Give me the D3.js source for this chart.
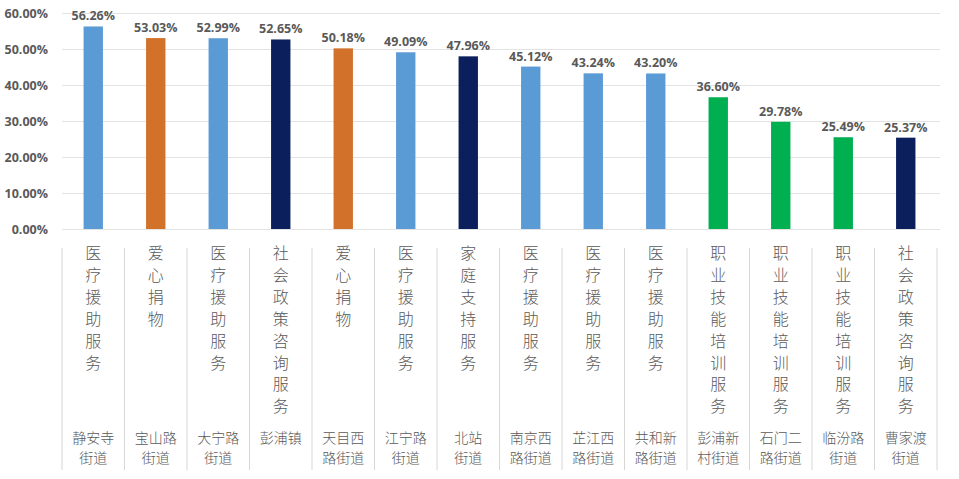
<!DOCTYPE html>
<html><head><meta charset="utf-8">
<script src="https://cdn.jsdelivr.net/npm/d3@7"></script>
<style>body{margin:0;background:#fff}svg{display:block}</style>
</head><body>
<script>
const streets = ["静安寺街道","宝山路街道","大宁路街道","彭浦镇","天目西路街道","江宁路街道","北站街道","南京西路街道","芷江西路街道","共和新路街道","彭浦新村街道","石门二路街道","临汾路街道","曹家渡街道"];
const services = ["医疗援助服务","爱心捐物","医疗援助服务","社会政策咨询服务","爱心捐物","医疗援助服务","家庭支持服务","医疗援助服务","医疗援助服务","医疗援助服务","职业技能培训服务","职业技能培训服务","职业技能培训服务","社会政策咨询服务"];
const values = [56.26,53.03,52.99,52.65,50.18,49.09,47.96,45.12,43.24,43.20,36.60,29.78,25.49,25.37];
const yTicks = [0,10,20,30,40,50,60];
const serviceTypes = ["医疗援助服务","爱心捐物","社会政策咨询服务","家庭支持服务","职业技能培训服务"];
const serviceColors = ["#5B9BD5","#D2712A","#0A1F5C","#0A1F5C","#00B050"];

const W=959,H=479;
const svg=d3.select("body").append("svg").attr("width",W).attr("height",H);
const x=d3.scaleBand().domain(d3.range(values.length)).range([62,937]).paddingInner(0.69).paddingOuter(0.345);
const xb=d3.scaleBand().domain(d3.range(values.length)).range([62,937]);
const y=d3.scaleLinear().domain([0,60]).range([229,13]);
const color=d3.scaleOrdinal().domain(serviceTypes).range(serviceColors);

// gridlines
const yAxis=d3.axisLeft(y).tickValues(yTicks).tickSize(-(940-62)).tickFormat(d=>d3.format(".2f")(d)+"%");
const ga=svg.append("g").attr("transform","translate(62,0)").call(yAxis);
ga.select(".domain").remove();
ga.selectAll(".tick line").attr("stroke","#e3e3e3").attr("stroke-width",1);
ga.selectAll(".tick text").attr("x",-14).attr("fill","#595959").style("font-family","'Open Sans','DejaVu Sans',sans-serif")
  .style("font-size","12.5px").style("font-weight","bold");

// bars
svg.selectAll("rect.bar").data(values).enter().append("rect").attr("class","bar")
  .attr("x",(d,i)=>x(i)).attr("width",x.bandwidth())
  .attr("y",d=>y(d)).attr("height",d=>y(0)-y(d))
  .attr("fill",(d,i)=>color(services[i]));

// value labels
svg.selectAll("text.val").data(values).enter().append("text").attr("class","val")
  .attr("x",(d,i)=>x(i)+x.bandwidth()/2).attr("y",d=>y(d)-6)
  .attr("text-anchor","middle").attr("fill","#595959")
  .style("font-family","'Open Sans','DejaVu Sans',sans-serif").style("font-size","12.5px").style("font-weight","bold")
  .text(d=>d3.format(".2f")(d)+"%");

// category dividers
const bounds=d3.range(values.length).map(i=>xb(i)).concat([xb(values.length-1)+xb.bandwidth()]);
svg.selectAll("line.div").data(bounds).enter().append("line").attr("class","div")
  .attr("x1",d=>d).attr("x2",d=>d).attr("y1",248).attr("y2",470)
  .attr("stroke","#d6d6d6").attr("stroke-width",1);

const cjk="'Noto Sans CJK SC','Noto Sans CJK JP',sans-serif";
// service labels (vertical, one character per line)
services.forEach((s,i)=>{
  const cx=xb(i)+xb.bandwidth()/2;
  const g=svg.append("g");
  Array.from(s).forEach((ch,k)=>{
    g.append("text").attr("text-anchor","middle").attr("fill","#595959")
      .style("font-family",cjk).style("font-size","16px").style("font-weight","300")
      .attr("x",cx).attr("y",259+k*21.9).text(ch);
  });
});
// street labels
streets.forEach((s,i)=>{
  const cx=xb(i)+xb.bandwidth()/2;
  const chars=Array.from(s);
  const lines=[];
  if(chars.length===4){lines.push(chars.slice(0,2).join(""),chars.slice(2).join(""));}
  else for(let k=0;k<chars.length;k+=3) lines.push(chars.slice(k,k+3).join(""));
  lines.forEach((ln,k)=>svg.append("text").attr("text-anchor","middle").attr("fill","#595959")
    .style("font-family",cjk).style("font-size","14px").style("font-weight","300")
    .attr("x",cx).attr("y",442.5+k*20.5).text(ln));
});
</script>
</body></html>
